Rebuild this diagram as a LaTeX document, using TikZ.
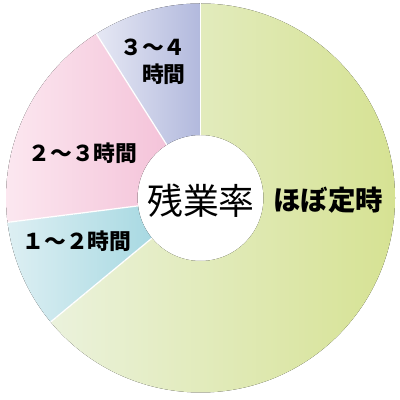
\documentclass[tikz,border=0pt]{standalone}
\usepackage{fontspec}
\setmainfont{Noto Sans CJK JP}
\definecolor{teijiL}{HTML}{EBF2DC}
\definecolor{teijiR}{HTML}{D6E293}
\definecolor{oneL}{HTML}{DDEFF3}
\definecolor{oneR}{HTML}{A8D9E2}
\definecolor{twoL}{HTML}{FCE9F1}
\definecolor{twoR}{HTML}{F4C3D9}
\definecolor{threeL}{HTML}{E6E8F4}
\definecolor{threeR}{HTML}{B2B9DD}
\newcommand{\ringpart}[4]{%
  \fill[left color=#3, right color=#4]
    ([shift={(#1:4.8625)}]o) arc[start angle=#1, end angle=#2, radius=4.8625]
    -- ([shift={(#2:1.575)}]o) arc[start angle=#2, end angle=#1, radius=1.575] -- cycle;}
\begin{document}
\begin{tikzpicture}
  \tikzstyle{sep} = [white, line width=0.9pt]
  \tikzstyle{lab} = [font=\bfseries\fontsize{15.5}{19}\selectfont, inner sep=0pt]
  \useasboundingbox (0,0) rectangle (10,10);
  \coordinate (o) at (5.0125,5.05);
  \ringpart{90}{-140.4}{teijiL}{teijiR}
  \ringpart{219.6}{187.2}{oneL}{oneR}
  \ringpart{187.2}{122.4}{twoL}{twoR}
  \ringpart{122.4}{90}{threeL}{threeR}
  \foreach \a in {90, 122.4, 187.2, 219.6}
    \draw[sep] ([shift={(\a:1.575)}]o) -- ([shift={(\a:4.8625)}]o);
  \node[font=\fontsize{25.5}{28}\selectfont] (rate) at (5.025,4.975) {残業率};
  \node[lab, font=\bfseries\fontsize{19.5}{22}\selectfont] (teiji) at (8.2,5.0) {ほぼ定時};
  \node[lab] (two) at (2.075,6.175) {２～３時間};
  \node[lab] (one) at (1.925,3.975) {１～２時間};
  \node[lab, align=right, anchor=east] (three) at (4.65,8.45) {３～４\\時間};
\end{tikzpicture}
\end{document}
